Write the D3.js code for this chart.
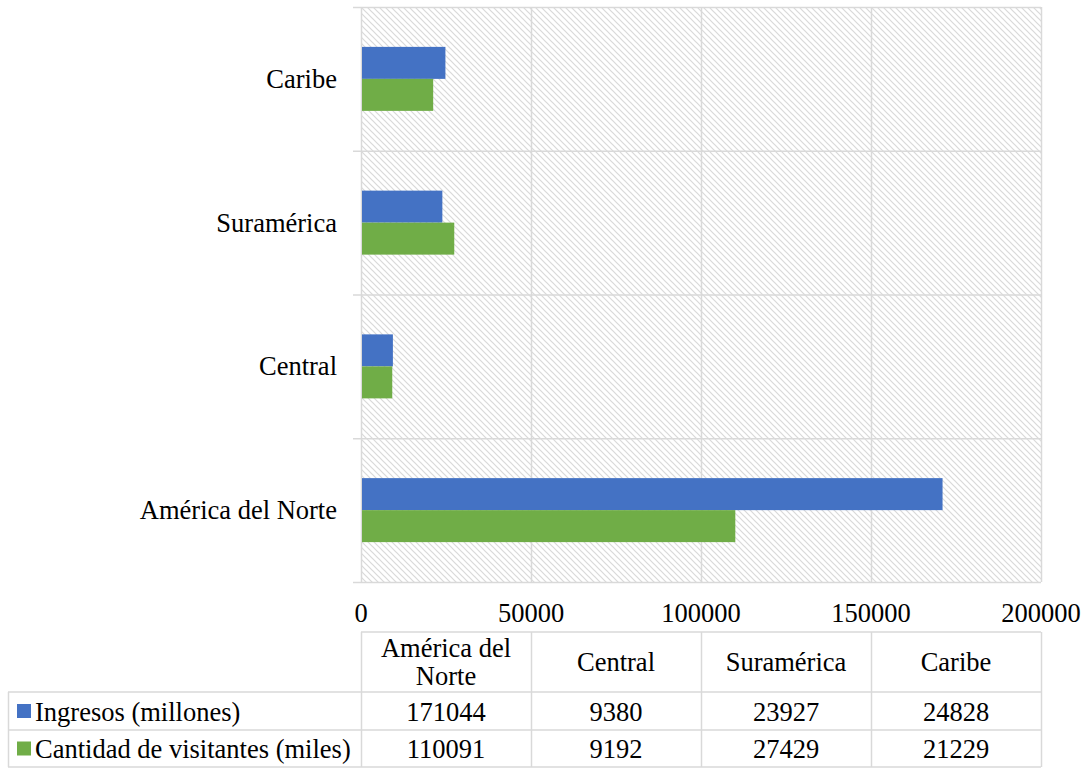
<!DOCTYPE html>
<html><head><meta charset="utf-8">
<script src="https://cdn.jsdelivr.net/npm/d3@7"></script>
</head><body style="margin:0;background:#fff">
<svg id="c" width="1086" height="768" font-family="Liberation Serif" style="display:block"></svg>
<script>
const categories = ["América del Norte", "Central", "Suramérica", "Caribe"];
const seriesNames = ["Ingresos (millones)", "Cantidad de visitantes (miles)"];
const ingresos = [171044, 9380, 23927, 24828];
const visitantes = [110091, 9192, 27429, 21229];
const xTicks = [0, 50000, 100000, 150000, 200000];
const colors = ["#4472C4", "#70AD47"];

const svg = d3.select("#c");
const L = 361, R = 1041, T = 7, B = 582;
const grid = "#d9d9d9";
function styleText(sel){ return sel.attr("font-family","Liberation Serif").style("font-family",'"Liberation Serif"').style("font-size","26.5px"); }

const defs = svg.append("defs");
const pat = defs.append("pattern").attr("id","hatch").attr("patternUnits","userSpaceOnUse")
  .attr("width",6).attr("height",6);
pat.append("rect").attr("width",6).attr("height",6).attr("fill","#fff");
pat.append("path").attr("d","M-1,-1 L7,7 M-1,5 L1,7 M5,-1 L7,1").attr("stroke","#d9d9d9").attr("stroke-width",1.2);

const x = d3.scaleLinear().domain([0,200000]).range([L,R]);
const y = d3.scaleBand().domain(categories.slice().reverse()).range([T,B]);
const sub = d3.scaleBand().domain(seriesNames).range([-32,32]);

svg.append("rect").attr("x",L).attr("y",T).attr("width",R-L).attr("height",B-T).attr("fill","url(#hatch)");

svg.append("g").selectAll("line").data(xTicks).join("line")
  .attr("x1",d=>x(d)+0.5).attr("x2",d=>x(d)+0.5).attr("y1",T).attr("y2",B)
  .attr("stroke",grid).attr("stroke-width",1.5);
const bounds = categories.map(c=>y(c)).concat([B]);
svg.append("g").selectAll("line").data(bounds).join("line")
  .attr("x1",L-8).attr("x2",R).attr("y1",d=>d+0.5).attr("y2",d=>d+0.5)
  .attr("stroke",grid).attr("stroke-width",1.5);

const data = [ingresos, visitantes];
categories.forEach((c,i)=>{
  data.forEach((arr,s)=>{
    svg.append("rect")
      .attr("x",x(0)+1).attr("y",y(c)+y.bandwidth()/2+sub(seriesNames[s]))
      .attr("width",x(arr[i])-x(0)-1).attr("height",sub.bandwidth())
      .attr("fill",colors[s]);
  });
});

styleText(svg.append("g").selectAll("text").data(categories).join("text")
  .attr("x",337).attr("y",c=>y(c)+y.bandwidth()/2+9)
  .attr("text-anchor","end")
  .text(d=>d));

styleText(svg.append("g").selectAll("text").data(xTicks).join("text")
  .attr("x",d=>x(d)).attr("y",621.5).attr("text-anchor","middle")
  .text(d=>d));

const tTop = 632, hRow = 692, r1 = 730, r2 = 767, tLeft = 8;
const colEdges = xTicks.map(d=>x(d));
const tg = svg.append("g").attr("stroke",grid).attr("stroke-width",1.5);
tg.append("line").attr("x1",L).attr("x2",R).attr("y1",tTop).attr("y2",tTop);
[hRow, r1, r2].forEach(yy=>tg.append("line").attr("x1",tLeft).attr("x2",R).attr("y1",yy).attr("y2",yy));
colEdges.forEach(xx=>tg.append("line").attr("x1",xx+0.5).attr("x2",xx+0.5).attr("y1",tTop).attr("y2",r2));
tg.append("line").attr("x1",tLeft+0.5).attr("x2",tLeft+0.5).attr("y1",hRow).attr("y2",r2);

const colCenter = i => (colEdges[i]+colEdges[i+1])/2;
categories.forEach((c,i)=>{
  const t = styleText(svg.append("text").attr("text-anchor","middle"));
  if (c === "América del Norte"){
    t.append("tspan").attr("x",colCenter(i)).attr("y",656.5).text("América del");
    t.append("tspan").attr("x",colCenter(i)).attr("y",685).text("Norte");
  } else {
    t.attr("x",colCenter(i)).attr("y",670.5).text(c);
  }
});
const rowTops = [hRow, r1], rowBots = [r1, r2];
data.forEach((arr,s)=>{
  const cy = (rowTops[s] + rowBots[s])/2;
  svg.append("rect").attr("x",17).attr("y",cy-7).attr("width",14).attr("height",14).attr("fill",colors[s]);
  styleText(svg.append("text").attr("x",35).attr("y",cy+9.5).text(seriesNames[s]));
  arr.forEach((v,i)=>{
    styleText(svg.append("text").attr("x",colCenter(i)).attr("y",cy+9.5).attr("text-anchor","middle").text(v));
  });
});
</script>
</body></html>
